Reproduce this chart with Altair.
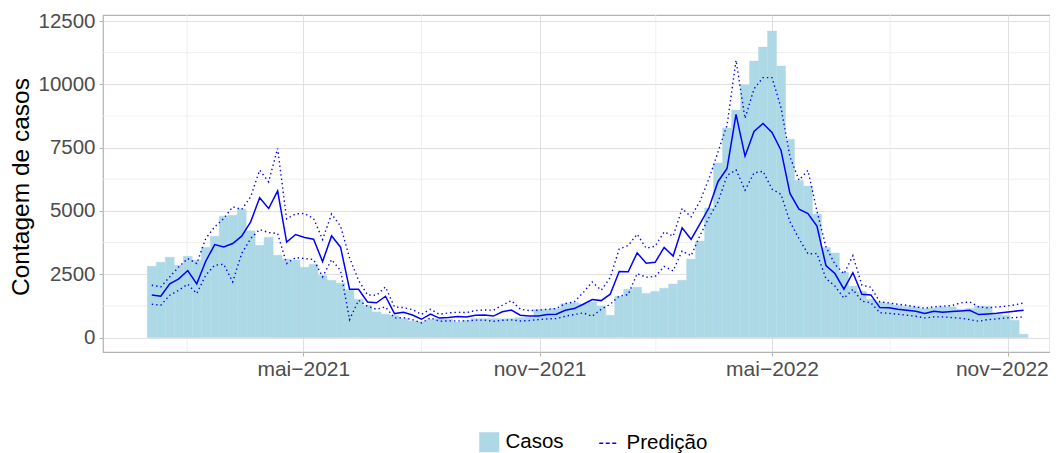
import altair as alt
import pandas as pd

# ---- data (weekly, from 2021-01-03) ----
inicio = "2021-01-03"
casos = [2818, 2976, 3174, 2858, 3213, 3055, 3569, 4004, 4794, 4833,
         5070, 4214, 3648, 3964, 3253, 3095, 3055, 2779, 2897, 2455,
         2265, 2150, 1890, 1515, 1277, 1014, 925, 870, 755, 658,
         630, 715, 750, 730, 618, 680, 750, 750, 750, 740,
         750, 790, 800, 1110, 1115, 1150, 1343, 1375, 1330, 1409,
         1251, 882, 1633, 1910, 1990, 1750, 1825, 1950, 2115, 2265,
         3100, 3812, 5115, 6895, 8278, 8982, 9970, 10918, 11471, 12103,
         10720, 7836, 6200, 5985, 4880, 3556, 3340, 2580, 2035, 1831,
         1515, 1409, 1343, 1277, 1238, 1212, 1146, 1172, 1212, 1212,
         1119, 1146, 1238, 1238, 922, 882, 685, 132]
predicao = [1686, 1633, 2120, 2318, 2647, 2120, 3016, 3674, 3582, 3714,
            4004, 4570, 5518, 5097, 5795, 3767, 4070, 3951, 3885, 3000,
            4015, 3570, 1908, 1908, 1408, 1375, 1632, 947, 1000, 890,
            723, 928, 770, 790, 835, 815, 885, 888, 850, 1020,
            1087, 883, 856, 856, 909, 922, 1080, 1146, 1317, 1501,
            1460, 1712, 2610, 2600, 3345, 2935, 2970, 3560, 3220, 4333,
            3880, 4504, 5136, 6165, 6677, 8810, 7164, 8140, 8455, 8100,
            7401, 5690, 5070, 4899, 4399, 2845, 2529, 1910, 2560, 1712,
            1685, 1185, 1178, 1119, 1080, 1040, 948, 1040, 1000, 1027,
            1054, 1080, 909, 935, 962, 1000, 1040, 1080]
limite_sup = [2068, 2002, 2397, 2792, 3121, 2924, 3911, 4372, 4702, 5163,
              5057, 5558, 6611, 6150, 7467, 4688, 4886, 4900, 4700, 3872,
              4880, 4400, 3150, 2264, 1685, 1670, 2000, 1210, 1184, 1105,
              920, 1118, 920, 973, 1000, 986, 1070, 1090, 1080, 1277,
              1462, 1119, 1067, 1080, 1119, 1146, 1343, 1409, 1778, 2199,
              1870, 2370, 3500, 3635, 4083, 3530, 3609, 4175, 4004, 5097,
              4768, 5400, 6282, 7336, 8389, 10950, 8653, 9820, 10265, 10265,
              9080, 7138, 6216, 6600, 5000, 3582, 2900, 2515, 3233, 2068,
              1990, 1409, 1370, 1317, 1277, 1212, 1159, 1212, 1238, 1264,
              1370, 1409, 1212, 1172, 1212, 1238, 1290, 1370]
limite_inf = [1317, 1277, 1672, 1870, 2107, 1738, 2463, 2858, 2897, 2199,
              3319, 3911, 4267, 4148, 4109, 2924, 3160, 3121, 3082, 2397,
              3078, 2650, 708, 1473, 1236, 1118, 1210, 776, 789, 710,
              579, 776, 645, 658, 658, 658, 690, 690, 645, 685,
              698, 658, 672, 711, 737, 750, 843, 909, 975, 843,
              1119, 1317, 1640, 1699, 2529, 2380, 2410, 2810, 2634, 3418,
              3233, 4040, 4750, 5360, 6400, 6620, 5821, 6500, 6565, 5867,
              5657, 4570, 3911, 3306, 3319, 2331, 2035, 1560, 1900, 1440,
              1376, 980, 960, 922, 882, 843, 777, 816, 816, 790,
              764, 711, 645, 711, 737, 777, 790, 816]

meses_pt = ["jan", "fev", "mar", "abr", "mai", "jun",
            "jul", "ago", "set", "out", "nov", "dez"]
x_ticks = [(2021, 5, 1), (2021, 11, 1), (2022, 5, 1), (2022, 11, 1)]
x_minor = ["2021-01-30T12:00:00", "2021-08-01T00:00:00",
           "2022-01-30T12:00:00", "2022-08-01T00:00:00"]
y_ticks = [0, 2500, 5000, 7500, 10000, 12500]
y_minor = [1250, 3750, 6250, 8750, 11250]

# ---- tables ----
datas = pd.date_range(inicio, periods=len(casos), freq="7D")
df = pd.DataFrame({"data": datas, "casos": casos, "pred": predicao,
                   "sup": limite_sup, "inf": limite_inf})
df["ini"] = df["data"] - pd.Timedelta(hours=84)
df["fim"] = df["data"] + pd.Timedelta(hours=84)
df["serie_c"] = "Casos"
df["serie_p"] = "Predição"

df_xminor = pd.DataFrame({"d": pd.to_datetime(x_minor)})
df_yminor = pd.DataFrame({"v": y_minor})

FONT = "Liberation Sans"

x_scale = alt.Scale(domain=[alt.DateTime(year=2020, month=11, date=26),
                            alt.DateTime(year=2022, month=12, date=3, hours=12)])
y_scale = alt.Scale(domain=[-569, 12737], nice=False, zero=False)

label_expr = ("[" + ",".join("'%s'" % m for m in meses_pt) + "][month(datum.value)]"
              " + '\u2212' + year(datum.value)")

x_axis = alt.Axis(values=[alt.DateTime(year=a, month=m, date=d) for a, m, d in x_ticks],
                  labelExpr=label_expr, title=None, grid=True,
                  gridColor="#E0E0E0", gridWidth=1, domain=False,
                  tickColor="#B3B3B3", tickSize=4, tickWidth=1,
                  labelFont=FONT, labelFontSize=21, labelColor="#4D4D4D",
                  labelPadding=2, labelFlush=50, labelFlushOffset=40,
                  labelOverlap=False)
y_axis = alt.Axis(values=y_ticks, format="d", title="Contagem de casos",
                  grid=True, gridColor="#E0E0E0", gridWidth=1, domain=False,
                  tickColor="#B3B3B3", tickSize=4, tickWidth=1,
                  labelFont=FONT, labelFontSize=20.5, labelColor="#4D4D4D",
                  labelPadding=4, titleFont=FONT, titleFontSize=24.5,
                  titleFontWeight="normal", titleColor="black",
                  titleX=-69.5, titleY=171.5)

minor_x = alt.Chart(df_xminor).mark_rule(color="#EBEBEB", strokeWidth=0.8).encode(
    x=alt.X("d:T", scale=x_scale, axis=x_axis))
minor_y = alt.Chart(df_yminor).mark_rule(color="#EBEBEB", strokeWidth=0.8).encode(
    y=alt.Y("v:Q", scale=y_scale, axis=y_axis))

base = alt.Chart(df)

bars = base.mark_bar(strokeWidth=0.4, stroke="#ADD8E6").encode(
    x=alt.X("ini:T", scale=x_scale, axis=x_axis),
    x2="fim:T",
    y=alt.Y("casos:Q", scale=y_scale, axis=y_axis),
    y2=alt.datum(0),
    fill=alt.Fill("serie_c:N",
                  scale=alt.Scale(domain=["Casos"], range=["#ADD8E6"]),
                  legend=alt.Legend(title=None, orient="none", legendX=376, legendY=417,
                                    symbolType="square", symbolSize=400,
                                    symbolStrokeWidth=0, symbolOpacity=1,
                                    labelFont=FONT, labelFontSize=20.5,
                                    labelColor="black", labelOffset=6, padding=0)),
)

dot = [1.4, 3.0]
sup = base.mark_line(color="#0000FF", strokeWidth=1.4, strokeDash=dot).encode(
    x=alt.X("data:T", scale=x_scale, axis=x_axis),
    y=alt.Y("sup:Q", scale=y_scale, axis=y_axis))
inf = base.mark_line(color="#0000FF", strokeWidth=1.4, strokeDash=dot).encode(
    x=alt.X("data:T", scale=x_scale, axis=x_axis),
    y=alt.Y("inf:Q", scale=y_scale, axis=y_axis))
pred = base.mark_line(strokeWidth=1.5).encode(
    x=alt.X("data:T", scale=x_scale, axis=x_axis),
    y=alt.Y("pred:Q", scale=y_scale, axis=y_axis),
    stroke=alt.Stroke("serie_p:N",
                      scale=alt.Scale(domain=["Predição"], range=["#0000FF"]),
                      legend=alt.Legend(title=None, orient="none", legendX=495, legendY=418,
                                        symbolType="stroke", symbolSize=324,
                                        symbolStrokeWidth=1.5, symbolDash=[4, 2.5],
                                        labelFont=FONT, labelFontSize=20.5,
                                        labelColor="black", labelOffset=8, padding=0)),
)

chart = alt.layer(minor_x, minor_y, bars, sup, inf, pred).properties(
    width=947, height=337,
    autosize=alt.AutoSizeParams(type="none"),
    padding={"left": 95, "top": 7, "right": 0, "bottom": 101},
).configure_view(stroke="#B3B3B3", strokeWidth=1.2)

chart.save("out.html", embed_options={"renderer": "svg", "actions": False})
